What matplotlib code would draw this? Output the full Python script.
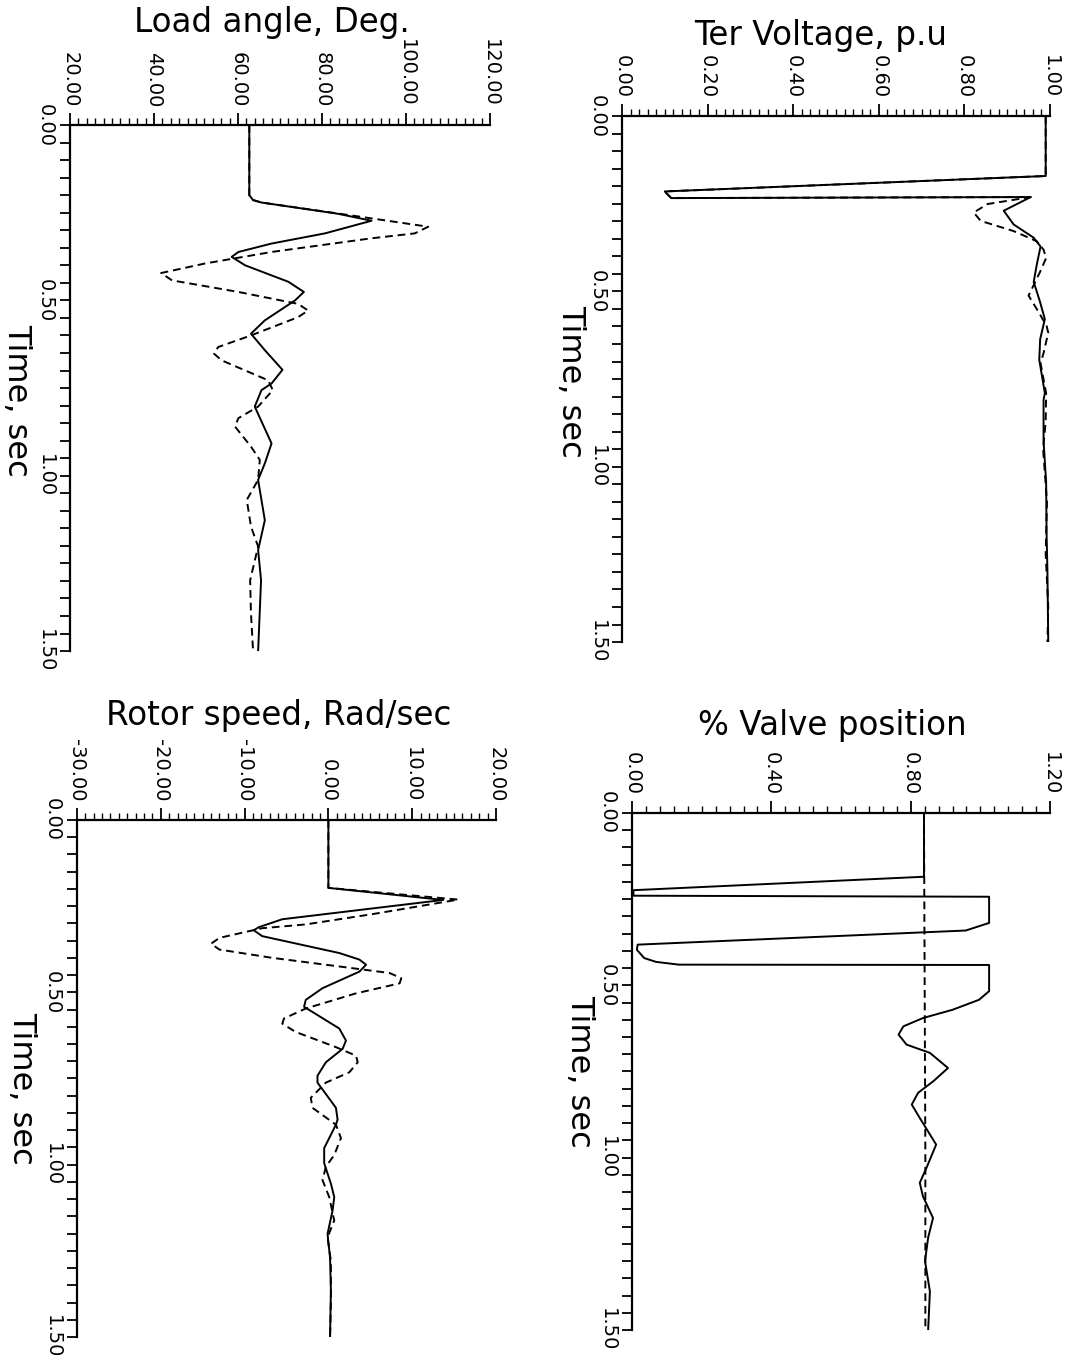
import numpy as np
from matplotlib import pyplot as plt
from matplotlib.ticker import MultipleLocator

# ---- data (time in sec) ----
# load angle, deg
t_la_1 = [0, 0.2, 0.214, 0.221, 0.253, 0.273, 0.309, 0.338, 0.362, 0.376, 0.4, 0.447, 0.476, 0.5,
          0.557, 0.595, 0.642, 0.698, 0.737, 0.756, 0.803, 0.908, 0.965, 1.012, 1.127, 1.212, 1.298, 1.5]
la_1 = [62.7, 62.7, 63.6, 65.6, 83.8, 91.8, 80.7, 68.0, 60.1, 58.5, 61.7, 72.0, 75.7, 73.6,
        66.4, 63.1, 66.4, 70.6, 68.0, 65.6, 64.0, 68.0, 66.4, 64.8, 66.4, 64.8, 65.5, 64.8]
t_la_2 = [0, 0.2, 0.214, 0.221, 0.256, 0.29, 0.309, 0.323, 0.362, 0.395, 0.422, 0.443, 0.476, 0.51,
          0.529, 0.548, 0.6, 0.633, 0.652, 0.671, 0.728, 0.756, 0.803, 0.836, 0.86, 0.917, 0.955,
          1.012, 1.069, 1.145, 1.202, 1.298, 1.393, 1.5]
la_2 = [62.7, 62.7, 63.6, 65.6, 86.0, 105.3, 102.1, 91.8, 68.0, 52.1, 41.7, 44.3, 60.1, 74.3,
        76.7, 74.3, 63.1, 55.3, 54.3, 56.1, 67.2, 68.3, 64.8, 60.1, 59.3, 63.1, 65.2,
        64.8, 62.1, 63.1, 64.8, 62.9, 63.1, 63.6]

# terminal voltage, p.u
t_v_1 = [0, 0.171, 0.215, 0.234, 0.231, 0.27, 0.309, 0.347, 0.372, 0.425, 0.473, 0.531, 0.579,
         0.637, 0.695, 0.79, 0.81, 0.927, 1.043, 1.187, 1.293, 1.5]
v_1 = [0.99, 0.99, 0.10, 0.115, 0.955, 0.892, 0.915, 0.962, 0.978, 0.969, 0.962, 0.977, 0.988,
       0.977, 0.975, 0.988, 0.985, 0.985, 0.991, 0.992, 0.994, 0.996]
t_v_2 = [0, 0.171, 0.215, 0.234, 0.231, 0.251, 0.275, 0.299, 0.328, 0.357, 0.381, 0.405, 0.444,
         0.492, 0.512, 0.55, 0.598, 0.618, 0.676, 0.705, 0.79, 0.87, 0.95, 1.1, 1.25, 1.4, 1.5]
v_2 = [0.99, 0.99, 0.10, 0.115, 0.955, 0.854, 0.822, 0.838, 0.915, 0.969, 0.985, 0.991, 0.977,
       0.958, 0.95, 0.969, 0.992, 0.996, 0.985, 0.978, 0.991, 0.99, 0.984, 0.993, 0.99, 0.996, 0.994]

# rotor speed, rad/sec
t_w_1 = [0, 0.197, 0.232, 0.288, 0.311, 0.32, 0.337, 0.386, 0.405, 0.42, 0.44, 0.488, 0.522, 0.542,
         0.557, 0.605, 0.64, 0.664, 0.703, 0.742, 0.762, 0.835, 0.869, 0.884, 0.952, 0.996, 1.055,
         1.094, 1.133, 1.201, 1.27, 1.367, 1.5]
w_1 = [0, 0, 13.7, -5.5, -8.3, -8.9, -7.9, 1.3, 3.7, 4.5, 3.7, -0.7, -2.7, -2.9,
       -1.9, 1.3, 2.1, 1.7, -0.3, -1.3, -1.3, 0.9, 1.1, 0.9, -0.5, -0.5, 0.3,
       0.7, 0.5, -0.1, 0.2, 0.3, 0.2]
t_w_2 = [0, 0.197, 0.231, 0.273, 0.303, 0.314, 0.342, 0.359, 0.376, 0.40, 0.425, 0.444, 0.459,
         0.474, 0.503, 0.547, 0.576, 0.591, 0.615, 0.659, 0.684, 0.703, 0.732, 0.762, 0.806, 0.835,
         0.884, 0.923, 0.972, 1.006, 1.045, 1.094, 1.162, 1.211, 1.279, 1.396, 1.5]
w_2 = [0, 0, 15.5, 5.3, -2.7, -7.9, -13.0, -14.0, -13.0, -6.7, 1.3, 7.3, 8.7,
       8.5, 3.3, -2.7, -5.3, -5.5, -3.9, 0.9, 3.3, 3.5, 2.5, -0.3, -2.1, -1.9,
       0.9, 1.5, 0.7, -0.3, -0.7, 0.1, 0.7, -0.1, 0.3, 0.3, 0.2]

# valve position
t_g_1 = [0, 0.185, 0.224, 0.240, 0.243, 0.319, 0.341, 0.382, 0.397, 0.421, 0.432, 0.44, 0.441,
         0.517, 0.542, 0.571, 0.595, 0.619, 0.643, 0.672, 0.696, 0.74, 0.779, 0.812, 0.846, 0.885,
         0.962, 1.03, 1.073, 1.112, 1.175, 1.232, 1.3, 1.388, 1.5]
g_1 = [0.838, 0.838, 0.004, 0.004, 1.025, 1.025, 0.958, 0.016, 0.014, 0.035, 0.069, 0.134, 1.025,
       1.025, 0.996, 0.92, 0.835, 0.779, 0.765, 0.788, 0.855, 0.907, 0.864, 0.821, 0.803, 0.826,
       0.873, 0.845, 0.826, 0.835, 0.864, 0.85, 0.841, 0.855, 0.85]
t_g_2 = [0, 0.5, 1.0, 1.5]
g_2 = [0.838, 0.84, 0.842, 0.842]

time_ticks = [0, 0.5, 1.0, 1.5]
time_labels = ['0.00', '0.50', '1.00', '1.50']


def setupPanel(ax, xticks, xlabels, xminor, title, title_xy, time_xy):
    ax.set_xlim(xticks[0], xticks[-1])
    ax.set_ylim(1.5, 0)
    ax.xaxis.tick_top()
    ax.set_xticks(xticks)
    ax.set_xticklabels(xlabels)
    ax.xaxis.set_minor_locator(MultipleLocator(xminor))
    ax.set_yticks(time_ticks)
    ax.set_yticklabels(time_labels, va='center')
    ax.yaxis.set_minor_locator(MultipleLocator(0.05))
    ax.tick_params(axis='x', which='major', direction='out', length=9, width=1.3,
                   labelsize=14, labelrotation=-90, pad=4)
    ax.tick_params(axis='x', which='minor', direction='out', length=5, width=1.0)
    ax.tick_params(axis='y', which='both', direction='out', length=7, width=1.3,
                   labelsize=14, labelrotation=-90, pad=4)
    for s in ['bottom', 'right']:
        ax.spines[s].set_visible(False)
    for s in ['top', 'left']:
        ax.spines[s].set_linewidth(1.6)
    ax.text(title_xy[0], title_xy[1], title, transform=ax.transAxes,
            ha='center', va='center', fontsize=23.5)
    ax.text(time_xy[0], time_xy[1], 'Time, sec', transform=ax.transAxes,
            ha='center', va='center', fontsize=23, rotation=-90)


dash = (0, (4, 2.5))
fig = plt.figure(figsize=(10.78, 13.62), dpi=100)

ax1 = fig.add_axes([0.0649, 0.522, 0.3896, 0.3862])
ax1.plot(la_2, t_la_2, color='black', lw=1.4, linestyle=dash)
ax1.plot(la_1, t_la_1, color='black', lw=1.4)
setupPanel(ax1, [20, 40, 60, 80, 100, 120],
           ['20.00', '40.00', '60.00', '80.00', '100.00', '120.00'], 2,
           'Load angle, Deg.', (0.48, 1.195), (-0.126, 0.477))

ax2 = fig.add_axes([0.577, 0.5286, 0.397, 0.3862])
ax2.plot(v_2, t_v_2, color='black', lw=1.4, linestyle=dash)
ax2.plot(v_1, t_v_1, color='black', lw=1.4)
setupPanel(ax2, [0, 0.2, 0.4, 0.6, 0.8, 1.0],
           ['0.00', '0.20', '0.40', '0.60', '0.80', '1.00'], 0.02,
           'Ter Voltage, p.u', (0.463, 1.154), (-0.12, 0.495))

ax3 = fig.add_axes([0.0714, 0.01836, 0.3887, 0.3796])
ax3.plot(w_2, t_w_2, color='black', lw=1.4, linestyle=dash)
ax3.plot(w_1, t_w_1, color='black', lw=1.4)
setupPanel(ax3, [-30, -20, -10, 0, 10, 20],
           ['-30.00', '-20.00', '-10.00', '0.00', '10.00', '20.00'], 1,
           'Rotor speed, Rad/sec', (0.482, 1.203), (-0.133, 0.48))

ax4 = fig.add_axes([0.5863, 0.0235, 0.3878, 0.3796])
ax4.plot(g_2, t_g_2, color='black', lw=1.4, linestyle=dash)
ax4.plot(g_1, t_g_1, color='black', lw=1.4)
setupPanel(ax4, [0, 0.4, 0.8, 1.2],
           ['0.00', '0.40', '0.80', '1.20'], 0.04,
           '% Valve position', (0.478, 1.17), (-0.126, 0.5))

plt.savefig('out.png', dpi=100)
